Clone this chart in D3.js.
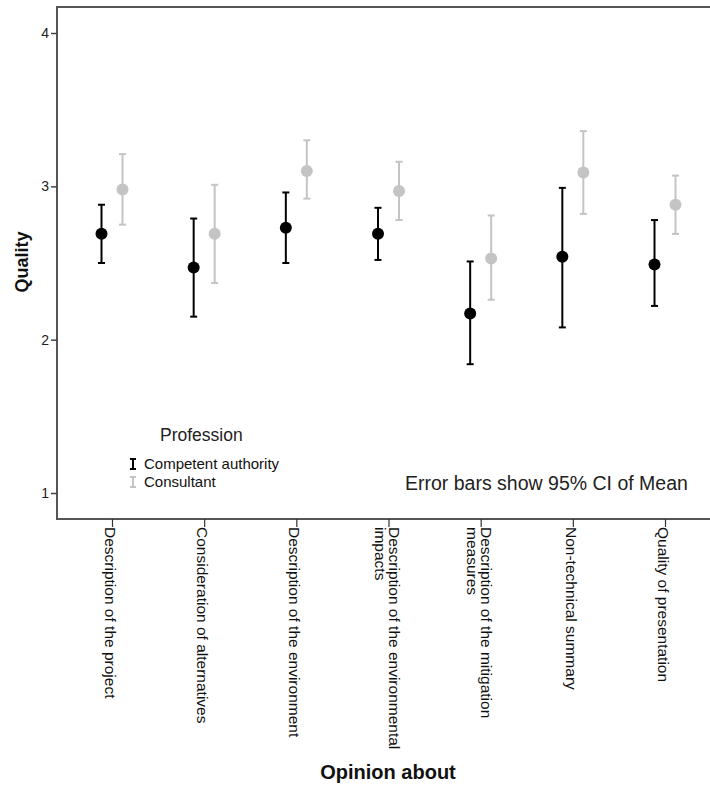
<!DOCTYPE html>
<html>
<head>
<meta charset="utf-8">
<script src="https://cdn.jsdelivr.net/npm/d3@7"></script>
<style>
  body { margin: 0; background: #fff; }
  text { font-family: "Liberation Sans", Arial, sans-serif; }
</style>
</head>
<body>
<div id="chart-area"></div>
<script>
// Data
const categories = [
  ["Description of the project"],
  ["Consideration of alternatives"],
  ["Description of the environment"],
  ["Description of the environmental", "impacts"],
  ["Description of the mitigation", "measures"],
  ["Non-technical summary"],
  ["Quality of presentation"]
]
const groups = ["Competent authority", "Consultant"]
const authMean  = [2.69, 2.47, 2.73, 2.69, 2.17, 2.54, 2.49]
const authLow   = [2.50, 2.15, 2.50, 2.52, 1.84, 2.08, 2.22]
const authHigh  = [2.88, 2.79, 2.96, 2.86, 2.51, 2.99, 2.78]
const consMean  = [2.98, 2.69, 3.10, 2.97, 2.53, 3.09, 2.88]
const consLow   = [2.75, 2.37, 2.92, 2.78, 2.26, 2.82, 2.69]
const consHigh  = [3.21, 3.01, 3.30, 3.16, 2.81, 3.36, 3.07]
const yTicks = [1, 2, 3, 4]

const WIDTH = 710
const HEIGHT = 785
const PLOT = { LEFT: 57, TOP: 7, BOTTOM: 519 }
const COLORS = ["#000000", "#c4c4c4"]

const svg = d3.select("#chart-area").append("svg")
  .attr("width", WIDTH)
  .attr("height", HEIGHT)

const catKeys = categories.map(c => c.join(" "))

const x = d3.scalePoint()
  .domain(catKeys)
  .range([112, 665])

const y = d3.scaleLinear()
  .domain([1, 4])
  .range([493, 33])

// Frame (open on the right, as in the cropped original)
svg.append("path")
  .attr("d", `M${WIDTH + 5},${PLOT.TOP}H${PLOT.LEFT}V${PLOT.BOTTOM}H${WIDTH + 5}`)
  .attr("fill", "none")
  .attr("stroke", "#555")
  .attr("stroke-width", 2)

// Y axis
const leftAxis = d3.axisLeft(y).tickValues(yTicks).tickSize(6).tickPadding(2).tickFormat(d3.format("d"))
const gy = svg.append("g")
  .attr("transform", `translate(${PLOT.LEFT}, 0)`)
  .call(leftAxis)
gy.select(".domain").remove()
gy.selectAll(".tick line").attr("stroke", "#444").attr("stroke-width", 1.5)
gy.selectAll(".tick text").attr("font-size", 14).attr("fill", "#222")
  .attr("font-family", "Liberation Sans, Arial, sans-serif")

// X axis
const bottomAxis = d3.axisBottom(x).tickSize(8).tickFormat("")
const gx = svg.append("g")
  .attr("transform", `translate(0, ${PLOT.BOTTOM})`)
  .call(bottomAxis)
gx.select(".domain").remove()
gx.selectAll(".tick line").attr("stroke", "#333").attr("stroke-width", 1.2)

// Category labels, rotated
const labels = svg.append("g").selectAll("g.cat")
  .data(categories)
  .enter().append("g")
  .attr("class", "cat")
  .attr("transform", (d, i) => `translate(${x(catKeys[i])}, 527) rotate(90)`)
labels.each(function(lines) {
  const n = lines.length
  d3.select(this).selectAll("text")
    .data(lines)
    .enter().append("text")
    .attr("x", 0)
    .attr("y", (d, j) => 7 + (j - (n - 1) / 2) * 14)
    .attr("font-size", 15.5)
    .attr("fill", "#111")
    .text(d => d)
})

// Error bars
const series = [
  { mean: authMean, low: authLow, high: authHigh, dx: -10.5, color: COLORS[0] },
  { mean: consMean, low: consLow, high: consHigh, dx: 10.5, color: COLORS[1] }
]

series.forEach(s => {
  const g = svg.append("g")
  const rows = catKeys.map((k, i) => ({ k, m: s.mean[i], lo: s.low[i], hi: s.high[i] }))
  g.selectAll("line.bar").data(rows).enter().append("line")
    .attr("x1", d => x(d.k) + s.dx).attr("x2", d => x(d.k) + s.dx)
    .attr("y1", d => y(d.lo)).attr("y2", d => y(d.hi))
    .attr("stroke", s.color).attr("stroke-width", 2)
  ;["lo", "hi"].forEach(end => {
    g.selectAll("line.cap-" + end).data(rows).enter().append("line")
      .attr("x1", d => x(d.k) + s.dx - 3.5).attr("x2", d => x(d.k) + s.dx + 3.5)
      .attr("y1", d => y(d[end])).attr("y2", d => y(d[end]))
      .attr("stroke", s.color).attr("stroke-width", 2)
  })
  g.selectAll("circle").data(rows).enter().append("circle")
    .attr("cx", d => x(d.k) + s.dx)
    .attr("cy", d => y(d.m))
    .attr("r", 6)
    .attr("fill", s.color)
})

// Legend
svg.append("text")
  .attr("x", 160).attr("y", 441)
  .attr("font-size", 17.5).attr("fill", "#222")
  .text("Profession")
groups.forEach((name, i) => {
  const ly = 464 + i * 18
  const lg = svg.append("g")
  lg.append("line").attr("x1", 133).attr("x2", 133).attr("y1", ly - 5).attr("y2", ly + 5)
    .attr("stroke", COLORS[i]).attr("stroke-width", 2)
  lg.append("line").attr("x1", 130).attr("x2", 136).attr("y1", ly - 5).attr("y2", ly - 5)
    .attr("stroke", COLORS[i]).attr("stroke-width", 2)
  lg.append("line").attr("x1", 130).attr("x2", 136).attr("y1", ly + 5).attr("y2", ly + 5)
    .attr("stroke", COLORS[i]).attr("stroke-width", 2)
  lg.append("text").attr("x", 144).attr("y", ly + 5)
    .attr("font-size", 15).attr("fill", "#111")
    .text(name)
})

svg.append("text")
  .attr("x", 405).attr("y", 490)
  .attr("font-size", 19.5).attr("fill", "#222")
  .text("Error bars show 95% CI of Mean")

// Axis titles
svg.append("text")
  .attr("text-anchor", "middle")
  .attr("transform", `translate(28, 262) rotate(-90)`)
  .attr("font-size", 18)
  .attr("font-weight", "bold")
  .attr("font-family", "DejaVu Sans, sans-serif")
  .attr("fill", "#111")
  .text("Quality")

svg.append("text")
  .attr("text-anchor", "middle")
  .attr("x", 388).attr("y", 779)
  .attr("font-size", 20)
  .attr("font-weight", "bold")
  .attr("font-family", "DejaVu Sans, sans-serif")
  .attr("fill", "#111")
  .text("Opinion about")
</script>
</body>
</html>
